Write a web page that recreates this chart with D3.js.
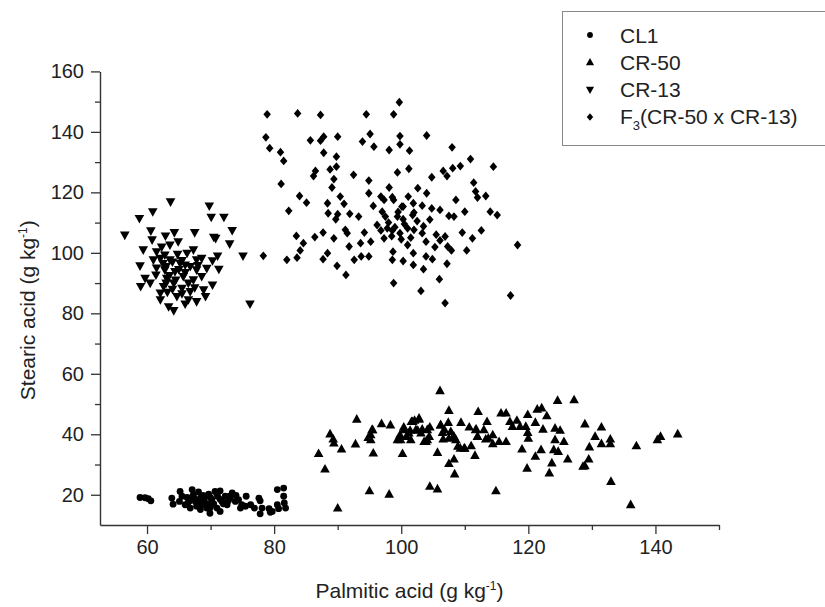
<!DOCTYPE html>
<html>
<head>
<meta charset="utf-8">
<script src="https://cdn.jsdelivr.net/npm/d3@7"></script>
<style>
  html, body { margin: 0; padding: 0; background: #fff; }
  svg { display: block; font-family: "Liberation Sans", Arial, sans-serif; }
</style>
</head>
<body>
<svg id="chart" width="825" height="607"></svg>
<script>
// Palmitic (x) vs stearic (y) acid content, g kg-1, per genotype
const cl1 = [
  [58.9,19.1],[59.7,19.0],[60.2,18.7],[60.6,18.0],
  [63.9,18.9],[64.1,16.9],[65.2,21.1],[65.5,19.5],[65.1,17.8],[66.0,16.7],[66.3,19.1],
  [67.1,21.7],[67.3,20.0],[66.7,18.0],[67.6,17.8],[67.8,16.2],[68.4,18.9],[68.1,20.9],
  [68.6,16.7],[69.2,19.5],[69.7,20.2],[70.2,18.4],[69.9,15.6],[70.7,21.1],[71.1,19.5],
  [71.5,21.3],[71.8,17.8],[72.3,19.5],[72.6,16.7],[73.1,18.9],[73.4,20.6],[73.9,17.8],
  [74.4,18.4],[74.9,16.7],[75.6,19.5],[75.5,16.2],[76.3,16.7],[76.9,15.6],[77.6,18.9],
  [78.1,15.6],[77.8,18.0],[79.2,15.4],[79.7,14.5],[80.5,16.7],[80.5,21.7],[81.5,22.2],
  [81.5,19.5],[81.6,17.3],[80.7,15.4],[81.8,15.6],[74.7,15.6],[71.0,15.6],[69.4,15.6],
  [66.8,15.6],[69.9,13.9],[71.5,14.5],[68.4,15.1],[77.8,13.7],[79.4,14.2],
  [67.0,19.0],[68.0,17.5],[69.0,18.0],[70.0,19.0],[70.5,17.0],[71.5,18.5],[72.0,17.0],
  [73.0,19.5],[69.5,17.0],[66.5,17.5],[68.8,19.8],[71.0,20.5],[72.8,18.0],[74.0,19.8],
  [70.0,16.2],[67.5,18.6]
];

const cr50 = [
  [87.0,33.6],[88.0,28.5],[88.8,40.1],[89.3,38.4],[89.4,37.1],[90.6,35.1],[90.0,15.6],
  [93.0,45.0],[92.8,36.8],[95.0,21.3],[95.6,33.8],[95.2,38.2],[94.8,38.9],[95.5,41.5],
  [96.9,43.5],[98.3,43.1],[98.1,20.2],[99.4,38.2],[100.2,33.6],[99.8,39.8],[100.4,42.4],
  [100.8,39.3],[101.6,44.2],[102.1,44.6],[102.8,45.3],[101.4,41.3],[102.6,41.3],[103.3,41.7],
  [104.5,42.4],[103.9,37.6],[104.1,38.2],[104.5,22.8],[105.7,21.9],[105.7,34.0],[106.1,54.4],
  [106.2,43.1],[106.5,40.6],[106.6,38.4],[107.5,47.9],[107.4,43.9],[107.8,40.9],[108.2,39.3],
  [108.6,38.2],[108.3,31.8],[107.5,30.3],[108.4,26.9],[109.3,35.4],[109.4,43.9],[110.0,35.4],
  [110.7,42.4],[111.0,36.2],[111.6,33.0],[111.8,41.7],[112.1,47.5],[112.0,39.3],[113.0,41.5],
  [113.5,44.2],[113.7,38.7],[114.4,39.8],[114.4,36.9],[114.9,21.3],[115.7,47.0],[115.4,37.6],
  [116.5,47.0],[116.5,37.6],[117.1,44.2],[117.5,42.6],[118.2,44.6],[118.7,42.6],[119.0,35.1],
  [119.6,42.6],[119.9,46.5],[119.9,40.6],[120.0,38.7],[119.8,28.8],[121.1,43.9],[121.1,32.7],
  [121.4,48.3],[122.1,48.7],[122.0,34.9],[122.3,41.7],[122.9,46.1],[123.3,27.2],[123.7,30.5],
  [124.0,34.9],[124.2,42.0],[124.2,38.2],[124.6,51.2],[124.7,34.3],[125.0,41.3],[125.6,37.6],
  [126.2,31.8],[127.2,51.4],[128.6,29.4],[128.9,29.6],[128.9,43.4],[129.5,31.8],[129.6,35.8],
  [130.5,39.3],[131.5,42.4],[131.5,36.9],[132.9,38.4],[132.9,36.9],[133.0,24.4],[136.1,16.7],
  [137.0,36.2],[140.3,38.2],[140.8,39.3],[143.5,40.1],
  [101.8,44.2],[102.8,45.0],[100.4,41.5],[101.2,40.4],[99.9,38.2],[101.5,38.2],[102.3,41.5],
  [103.1,40.4],[104.1,41.5],[104.4,39.3],[103.6,37.6],[106.8,41.5],[107.5,38.7],[108.3,39.3],
  [108.9,36.0],[109.9,35.4],[112.0,39.3],[111.7,41.5],[113.3,38.4],[106.2,43.1],[95.2,39.8],
  [95.4,41.5]
];

const cr13 = [
  [56.5,105.9],[58.8,111.4],[60.9,113.6],[63.7,116.9],[69.8,115.5],[70.1,111.8],[72.1,111.8],
  [73.4,107.4],[67.5,106.7],[64.3,106.7],[62.9,105.6],[60.6,107.3],[60.8,104.3],[70.5,105.2],
  [70.8,104.8],[73.0,103.0],[59.4,101.0],[58.9,95.7],[60.5,90.0],[59.0,88.9],[75.1,99.0],
  [76.2,83.1],[71.1,99.0],[71.3,94.6],[70.3,97.4],[70.3,89.4],[69.2,85.6],[67.8,83.9],
  [66.0,83.1],[63.4,82.2],[64.2,80.9],[62.1,84.5],[64.9,103.7],[63.6,102.6],[62.3,101.9],
  [62.1,98.2],[61.0,97.7],[61.4,92.7],[62.8,94.4],[63.6,97.7],[65.2,96.6],[66.3,99.9],
  [67.3,101.0],[67.8,97.7],[68.6,98.2],[66.8,95.5],[65.7,92.2],[67.3,91.1],[68.6,92.2],
  [68.9,87.8],[66.8,87.2],[65.5,88.3],[64.2,90.0],[62.6,88.9],[62.1,86.7],[64.7,85.6],
  [66.5,84.5],[63.1,91.6],[64.4,93.8],[61.5,100.4],[62.8,99.3],[67.8,94.4],[69.4,94.9],
  [59.7,91.6],
  [63.0,95.5],[64.0,97.0],[65.0,94.5],[63.5,92.5],[64.5,91.0],[66.0,93.5],[65.5,97.5],
  [62.5,96.5],[64.0,88.0],[65.5,86.5],[63.0,90.0],[66.5,90.0],[67.5,88.5],[61.5,95.0],
  [64.8,99.5],[63.2,87.0],[66.0,96.0],[68.0,95.8]
];

const f3 = [
  [78.9,145.8],[83.7,146.1],[87.3,145.6],[94.5,145.8],[98.8,145.8],[99.7,149.8],[78.7,138.2],
  [79.3,134.6],[81.0,133.3],[81.5,130.4],[81.1,122.8],[85.7,137.2],[87.3,137.1],[87.8,138.4],
  [90.0,138.4],[87.8,133.1],[89.8,131.8],[89.8,128.5],[88.8,127.6],[86.5,127.1],[86.2,125.4],
  [89.4,124.4],[92.5,125.8],[93.9,136.8],[95.1,139.3],[95.7,135.1],[98.1,134.0],[99.8,138.6],
  [99.8,135.9],[101.3,133.8],[104.0,138.8],[108.0,134.9],[110.9,131.0],[114.5,128.5],
  [109.3,128.7],[108.1,128.0],[106.6,127.1],[107.2,125.4],[104.8,125.0],[101.2,127.8],
  [99.4,126.6],[94.9,123.9],[98.1,121.6],[89.1,121.6],[84.0,118.8],[85.1,116.6],[82.3,113.9],
  [88.4,116.4],[88.5,113.1],[90.4,118.6],[91.0,116.2],[90.0,112.8],[89.7,111.1],[91.9,112.9],
  [94.9,119.7],[95.6,115.5],[97.3,117.5],[98.6,118.4],[97.0,113.6],[98.8,117.5],[100.1,115.3],
  [101.1,118.6],[102.6,121.4],[101.9,116.4],[102.0,113.3],[103.3,115.6],[104.0,119.7],
  [104.8,114.7],[106.1,114.2],[107.5,112.2],[108.6,117.5],[110.0,113.6],[111.4,123.2],
  [111.7,120.3],[112.0,118.3],[113.3,118.8],[114.0,113.6],[115.1,112.5],[118.3,102.6],
  [117.2,85.9],[106.9,83.4],[103.1,87.4],[98.8,90.0],[106.0,91.3],[103.5,94.6],[101.9,96.0],
  [100.3,97.3],[98.6,97.7],[98.7,100.4],[101.9,99.9],[103.9,98.8],[104.9,97.9],[105.3,101.9],
  [106.1,104.1],[107.3,102.1],[107.9,100.8],[107.2,96.4],[110.3,100.8],[111.2,104.8],
  [112.6,107.4],[109.6,106.7],[108.3,112.0],[106.9,105.4],[103.9,103.7],[103.3,106.5],
  [102.0,107.6],[101.0,108.1],[101.0,102.6],[99.8,106.5],[98.6,107.4],[97.8,108.1],
  [96.8,107.4],[97.3,104.8],[96.2,109.2],[95.2,103.7],[94.9,98.8],[93.7,98.8],[93.6,103.2],
  [94.2,106.7],[93.3,112.0],[92.6,97.7],[91.8,102.1],[91.5,106.5],[91.2,107.6],[89.9,95.7],
  [91.3,92.7],[88.4,99.9],[87.7,97.9],[89.4,104.8],[87.7,106.7],[86.4,105.2],[84.6,103.2],
  [83.5,105.6],[84.1,100.8],[83.6,98.4],[82.0,97.7],[78.3,99.0],[96.8,118.6],[100.3,115.3],
  [99.4,112.0],[100.3,111.1],[101.8,112.5],
  [98.0,110.0],[99.0,108.5],[100.5,109.5],[102.5,110.5],[103.5,108.8],[97.5,112.0],
  [104.5,111.0],[100.0,104.5],[98.5,105.5],[105.5,106.0],[99.5,113.5],[101.5,105.0]
];

const xMajorTicks = [60, 80, 100, 120, 140];
const xMinorTicks = [70, 90, 110, 130, 150];
const yMajorTicks = [20, 40, 60, 80, 100, 120, 140, 160];
const yMinorTicks = [30, 50, 70, 90, 110, 130, 150];

const legendLabels = ["CL1", "CR-50", "CR-13", "F"];

// custom marker shapes
const triUp = {
  draw(ctx, s) {
    ctx.moveTo(0, -s * 0.62);
    ctx.lineTo(s * 0.58, s * 0.42);
    ctx.lineTo(-s * 0.58, s * 0.42);
    ctx.closePath();
  }
};
const triDown = {
  draw(ctx, s) {
    ctx.moveTo(0, s * 0.62);
    ctx.lineTo(s * 0.58, -s * 0.42);
    ctx.lineTo(-s * 0.58, -s * 0.42);
    ctx.closePath();
  }
};
const diamond = {
  draw(ctx, s) {
    ctx.moveTo(0, -s * 0.55);
    ctx.lineTo(s * 0.47, 0);
    ctx.lineTo(0, s * 0.55);
    ctx.lineTo(-s * 0.47, 0);
    ctx.closePath();
  }
};
const dot = {
  draw(ctx, s) {
    const r = s * 0.45;
    ctx.moveTo(r, 0);
    ctx.arc(0, 0, r, 0, 2 * Math.PI);
  }
};

const series = [
  { data: cl1, shape: dot, size: 7.6 },
  { data: cr50, shape: triUp, size: 8.3 },
  { data: cr13, shape: triDown, size: 8.3 },
  { data: f3, shape: diamond, size: 8 }
];

const svg = d3.select("#chart");

const x = d3.scaleLinear().domain([52.6, 150]).range([100, 719]);
const y = d3.scaleLinear().domain([10, 160]).range([525, 71.4]);

// axes
const gx = svg.append("g").attr("transform", `translate(0,${y(10)})`);
gx.call(d3.axisBottom(x).tickValues(xMajorTicks).tickSize(9).tickSizeOuter(0).tickPadding(6));
gx.append("g").call(d3.axisBottom(x).tickValues(xMinorTicks).tickSize(5).tickSizeOuter(0).tickFormat(""))
  .select(".domain").remove();

const gy = svg.append("g").attr("transform", `translate(${x(52.6)},0)`);
gy.call(d3.axisLeft(y).tickValues(yMajorTicks).tickSize(9).tickSizeOuter(0).tickPadding(7));
gy.append("g").call(d3.axisLeft(y).tickValues(yMinorTicks).tickSize(5).tickSizeOuter(0).tickFormat(""))
  .select(".domain").remove();

svg.selectAll(".domain").attr("stroke", "#333").attr("stroke-width", 1.4);
svg.selectAll(".tick line").attr("stroke", "#333").attr("stroke-width", 1.3);
svg.selectAll(".tick text")
  .attr("fill", "#222")
  .style("font-size", "20px")
  .style("font-family", "'Liberation Sans', Arial, sans-serif");

// axis titles
const xt = svg.append("text")
  .attr("x", (x.range()[0] + x.range()[1]) / 2)
  .attr("y", 598)
  .attr("text-anchor", "middle")
  .attr("fill", "#222")
  .style("font-size", "21px");
xt.append("tspan").text("Palmitic acid (g kg");
xt.append("tspan").attr("dy", -8).style("font-size", "12px").text("-1");
xt.append("tspan").attr("dy", 8).text(")");

const yt = svg.append("text")
  .attr("transform", `translate(35,${(y.range()[0] + y.range()[1]) / 2 + 12}) rotate(-90)`)
  .attr("text-anchor", "middle")
  .attr("fill", "#222")
  .style("font-size", "21px");
yt.append("tspan").text("Stearic acid (g kg");
yt.append("tspan").attr("dy", -8).style("font-size", "12px").text("-1");
yt.append("tspan").attr("dy", 8).text(")");

// points
series.forEach(s => {
  const sym = d3.symbol().type(s.shape).size(s.size);
  svg.append("g").selectAll("path").data(s.data).join("path")
    .attr("d", sym)
    .attr("transform", d => `translate(${x(d[0])},${y(d[1])})`)
    .attr("fill", "#000");
});

// legend
const lg = svg.append("g");
lg.append("rect").attr("x", 562.5).attr("y", 11.5).attr("width", 280).attr("height", 134)
  .attr("fill", "#fff").attr("stroke", "#888").attr("stroke-width", 1);
series.forEach((s, i) => {
  const yy = 35 + i * 27.3;
  lg.append("path").attr("d", d3.symbol().type(s.shape).size(s.size * 0.85)())
    .attr("transform", `translate(590,${yy})`).attr("fill", "#000");
  const t = lg.append("text").attr("x", 620).attr("y", yy + 7.5)
    .attr("fill", "#222").style("font-size", "21px").text(legendLabels[i]);
  if (i === 3) {
    t.append("tspan").attr("dy", 6).style("font-size", "13px").text("3");
    t.append("tspan").attr("dy", -6).text("(CR-50 x CR-13)");
  }
});
</script>
</body>
</html>
